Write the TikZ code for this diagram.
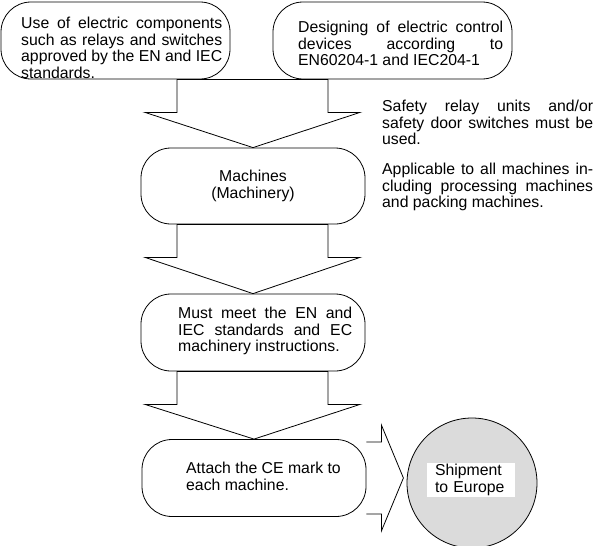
\documentclass[tikz,border=0pt]{standalone}
\usepackage{fontspec}
\setmainfont{Liberation Sans}
\usetikzlibrary{positioning,calc}
\definecolor{gris}{gray}{0.86}
\tikzset{
    caja/.style={draw,line width=0.8pt,rounded corners=30pt,inner sep=0pt,minimum height=77pt},
    texto/.style={inner sep=0pt,font=\fontsize{15.8}{16.6}\selectfont,align=justify},
    flecha/.style={draw,line width=0.8pt,line join=miter},
}
\begin{document}
\begin{tikzpicture}[x=1pt,y=-1pt]

    \def\anchoc{224pt}%Ancho cajas
    \def\cuerpo{33}%Largo cuerpo flecha
    \useasboundingbox (0,0) rectangle (595,546);

    %Cajas
    \node[caja,minimum width=229pt] (uso) at (115.5,40.5) {};
    \node[caja,minimum width=239pt] (diseno) at (392.5,40.5) {};
    \node[caja,minimum width=\anchoc,minimum height=76pt] (maq) at (253,186) {};
    \node[caja,minimum width=\anchoc] (cumple) at (253,332.5) {};
    \node[caja,minimum width=\anchoc] (marca) at (254,478) {};
    \node[circle,draw,line width=0.8pt,fill=gris,minimum size=130pt] (envio) at (472,483) {};
    \coordinate (arriba) at (maq.north |- uso.south);

    %Flechas
    \foreach \a/\b in {arriba/maq.north,maq.south/cumple.north,cumple.south/marca.north}
        \draw[flecha] ($(\a)+(-76,0)$)--++(0,\cuerpo)--++(-32,0)--(\b)--($(\a)+(107,\cuerpo)$)--++(-32,0)--($(\a)+(75,0)$)--cycle;
    \draw[flecha] ($(marca.east)+(0,-36)$)--++(15,0)--++(0,-17)--($(marca.east)+(37,0)$)--($(marca.east)+(15,53)$)--++(0,-17)--($(marca.east)+(0,36)$);

    %Textos
    \node[texto,text width=201pt,anchor=north west] (tuso) at (21,17) {Use of electric components\linebreak such as relays and switches\linebreak approved by the EN and IEC\linebreak standards.};
    \node[texto,text width=205pt,anchor=north west] (tdiseno) at (298,21) {Designing of electric control\linebreak devices according to\linebreak EN60204-1 and IEC204-1};
    \node[texto,text width=211pt,anchor=north west] (trele) at (382,100) {Safety relay units and/or\linebreak safety door switches must be\linebreak used.};
    \node[texto,text width=211pt,anchor=north west] (tmaqs) at (382,163) {Applicable to all machines in-\linebreak cluding processing machines\linebreak and packing machines.};
    \node[texto,align=center] (tmaq) at (maq.center) {Machines\\(Machinery)};
    \node[texto,text width=174pt,anchor=north west] (tcumple) at (178,307) {Must meet the EN and\linebreak IEC standards and EC\linebreak machinery instructions.};
    \node[texto,text width=158pt,anchor=north west] (tmarca) at (186,462) {Attach the CE mark to\\each machine.};
    \node[texto,align=left,text width=72pt,fill=white,inner xsep=8pt,inner ysep=1pt] (tenvio) at (471,480) {Shipment\\to Europe};

\end{tikzpicture}
\end{document}
